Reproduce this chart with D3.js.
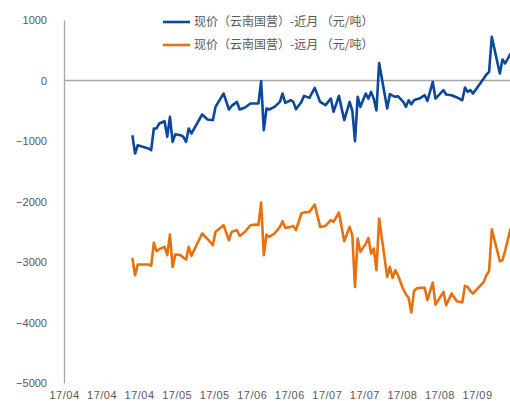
<!DOCTYPE html>
<html>
<head>
<meta charset="utf-8">
<script src="https://cdn.jsdelivr.net/npm/d3@7"></script>
<style>
	body { margin: 0; background: #fff; }
	svg { display: block; }
</style>
</head>
<body>
<script>
var w = 510;
var h = 401;

var seriesNames = ["现价（云南国营）-近月 （元/吨）", "现价（云南国营）-远月 （元/吨）"];

var dates = [
	"2017-04-26", "2017-04-27", "2017-04-28", "2017-05-02", "2017-05-03", "2017-05-04", "2017-05-05", "2017-05-06",
	"2017-05-08", "2017-05-09", "2017-05-10", "2017-05-11", "2017-05-12", "2017-05-14", "2017-05-15", "2017-05-16",
	"2017-05-17", "2017-05-18", "2017-05-22", "2017-05-24", "2017-05-26", "2017-05-27", "2017-05-30", "2017-06-01",
	"2017-06-02", "2017-06-04", "2017-06-05", "2017-06-07", "2017-06-09", "2017-06-11", "2017-06-12", "2017-06-13",
	"2017-06-14", "2017-06-15", "2017-06-16", "2017-06-18", "2017-06-20", "2017-06-21", "2017-06-22", "2017-06-24",
	"2017-06-25", "2017-06-26", "2017-06-28", "2017-06-29", "2017-07-01", "2017-07-03", "2017-07-05", "2017-07-07",
	"2017-07-09", "2017-07-10", "2017-07-12", "2017-07-14", "2017-07-16", "2017-07-17", "2017-07-18", "2017-07-19",
	"2017-07-20", "2017-07-22", "2017-07-23", "2017-07-24", "2017-07-25", "2017-07-26", "2017-07-27", "2017-07-30",
	"2017-07-31", "2017-08-01", "2017-08-02", "2017-08-03", "2017-08-05", "2017-08-06", "2017-08-07", "2017-08-08",
	"2017-08-09", "2017-08-10", "2017-08-11", "2017-08-13", "2017-08-14", "2017-08-16", "2017-08-17", "2017-08-20",
	"2017-08-21", "2017-08-23", "2017-08-25", "2017-08-27", "2017-08-28", "2017-08-29", "2017-08-30", "2017-08-31",
	"2017-09-04", "2017-09-05", "2017-09-06", "2017-09-07", "2017-09-10", "2017-09-11", "2017-09-12", "2017-09-14"
];

// 近月
var nearMonth = [
	-904, -1207, -1070, -1124, -1152, -793, -793, -711,
	-673, -932, -601, -1015, -888, -904, -932, -1015,
	-793, -876, -562, -645, -656, -436, -215, -479,
	-420, -354, -479, -446, -380, -380, -380, -12,
	-821, -463, -479, -436, -354, -215, -370, -326,
	-354, -474, -354, -254, -287, -122, -354, -408,
	-298, -518, -254, -656, -354, -500, -1003, -270,
	-436, -215, -298, -188, -300, -495, 290, -463,
	-226, -250, -270, -260, -354, -436, -326, -392,
	-326, -310, -298, -243, -337, -23, -298, -160,
	-232, -243, -280, -326, -116, -188, -160, -215,
	33, 100, 142, 721, 116, 347, 281, 446
];

// 远月
var farMonth = [
	-2932, -3218, -3041, -3041, -3064, -2684, -2821, -2788,
	-2750, -2887, -2545, -3081, -2876, -2887, -2930, -2959,
	-2750, -2899, -2529, -2620, -2722, -2502, -2392, -2640,
	-2502, -2474, -2569, -2500, -2392, -2380, -2392, -2017,
	-2888, -2545, -2585, -2529, -2420, -2326, -2436, -2420,
	-2403, -2474, -2198, -2182, -2172, -2050, -2420, -2403,
	-2309, -2337, -2182, -2656, -2420, -2557, -3412, -2612,
	-2833, -2700, -2602, -2860, -2777, -3136, -2281, -3246,
	-3081, -3263, -3136, -3218, -3450, -3537, -3593, -3835,
	-3480, -3438, -3428, -3428, -3632, -3339, -3702, -3494,
	-3714, -3521, -3648, -3669, -3395, -3411, -3480, -3521,
	-3329, -3218, -3150, -2458, -2987, -2970, -2810, -2446
];

var yTicks = [1000, 0, -1000, -2000, -3000, -4000, -5000];
var xStart = "2017-04-01";
var xEnd = "2017-09-16";
var tickStepDays = 14;

var colors = ["#0b489c", "#e8700f"];

var parseDate = d3.timeParse("%Y-%m-%d");
var startDate = parseDate(xStart);
var endDate = parseDate(xEnd);

var xScale = d3.scaleTime()
	.domain([startDate, endDate])
	.range([64, 64 + 168 * 2.682]);

var yScale = d3.scaleLinear()
	.domain([-5000, 1000])
	.range([383, 20]);

var svg = d3.select("body")
	.append("svg")
	.attr("width", w)
	.attr("height", h);

// y axis
var yAxis = d3.axisLeft(yScale)
	.tickValues(yTicks)
	.tickSize(0)
	.tickPadding(17)
	.tickFormat(d3.format("d"));

var gy = svg.append("g")
	.attr("transform", "translate(64,0)")
	.call(yAxis);
gy.select(".domain").attr("stroke", "#a6a6a6").attr("stroke-width", 1.3);
gy.selectAll("text")
	.attr("fill", "#595959")
	.style("font-family", "'Liberation Sans', Arial, sans-serif")
	.style("font-size", "11px");

// x axis labels, every 14 days
var xTicks = d3.timeDay.range(startDate, d3.timeDay.offset(endDate, -10), tickStepDays);
var xAxis = d3.axisBottom(xScale)
	.tickValues(xTicks)
	.tickSize(0)
	.tickPadding(0)
	.tickFormat(d3.timeFormat("%y/%m"));

var gx = svg.append("g")
	.attr("transform", "translate(0,391)")
	.call(xAxis);
gx.select(".domain").remove();
gx.selectAll("text")
	.attr("fill", "#595959")
	.attr("dy", "0.71em")
	.style("font-family", "'Liberation Sans', Arial, sans-serif")
	.style("font-size", "11px")
	.style("letter-spacing", "0.5px");

// zero line
svg.append("line")
	.attr("x1", 64)
	.attr("x2", w)
	.attr("y1", yScale(0))
	.attr("y2", yScale(0))
	.attr("stroke", "#a6a6a6")
	.attr("stroke-width", 1.3);

var line = d3.line()
	.x(function(d) { return xScale(d3.timeHour.offset(parseDate(d.date), 12)); })
	.y(function(d) { return yScale(d.value); });

[nearMonth, farMonth].forEach(function(values, k) {
	var pts = values.map(function(v, i) {
		return { date: dates[i], value: v };
	});
	svg.append("path")
		.datum(pts)
		.attr("fill", "none")
		.attr("stroke", colors[k])
		.attr("stroke-width", 2.6)
		.attr("stroke-linejoin", "round")
		.attr("d", line);
});

// legend
var legend = svg.selectAll(".legend")
	.data(seriesNames)
	.enter()
	.append("g")
	.attr("class", "legend")
	.attr("transform", function(d, i) {
		return "translate(163," + (22 + i * 23) + ")";
	});

legend.append("line")
	.attr("x1", 0)
	.attr("x2", 27)
	.attr("stroke", function(d, i) { return colors[i]; })
	.attr("stroke-width", 2.6);

legend.append("text")
	.attr("x", 31)
	.attr("dy", "0.35em")
	.attr("fill", "#595959")
	.style("font-family", "'Noto Sans CJK SC', sans-serif")
	.style("font-size", "12px")
	.text(function(d) { return d; });
</script>
</body>
</html>
